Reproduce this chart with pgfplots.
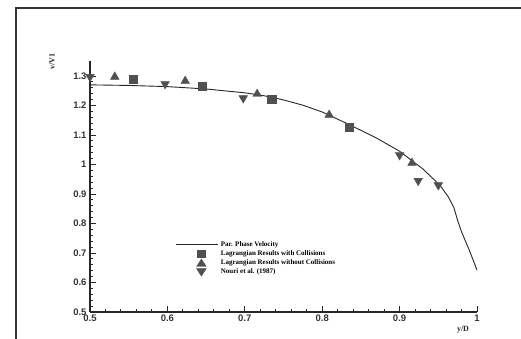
\documentclass[border=0pt]{standalone}
\usepackage{pgfplots}
\pgfplotsset{compat=1.18}
\usepackage{fontspec}
\setmainfont{Liberation Serif}
\newfontfamily\tickfont{Liberation Sans}
\definecolor{mk}{HTML}{505050}
\begin{document}
\begin{tikzpicture}[x=1pt,y=1pt]
\path[use as bounding box] (0,0) rectangle (521,338);
\draw[line width=1.2pt,black!80] (16,-20) |- (540,330);
\begin{axis}[
  at={(90pt,26pt)}, anchor=south west,
  scale only axis, width=387pt, height=250.75pt,
  xmin=0.5, xmax=1, ymin=0.5, ymax=1.35,
  axis x line=bottom, axis y line=left,
  axis line style={-, line width=1.3pt, black!85},
  tick align=inside,
  xtick={0.5,0.6,0.7,0.8,0.9,1}, xticklabels={0.5,0.6,0.7,0.8,0.9,1},
  ytick={0.5,0.6,0.7,0.8,0.9,1,1.1,1.2,1.3}, yticklabels={0.5,0.6,0.7,0.8,0.9,1,1.1,1.2,1.3},
  minor x tick num=4, minor y tick num=4,
  major tick length=6pt, minor tick length=3pt,
  tick style={line width=1pt, black!85},
  ticklabel style={font=\tickfont\bfseries\fontsize{9.5}{10}\selectfont, text=black!80},
  /pgf/number format/assume math mode=true,
  xticklabel style={yshift=1pt},
  clip=false,
  legend style={at={(rel axis cs:0.22,0.29)}, anchor=north west, draw=none, fill=none,
    font=\bfseries\fontsize{7}{7.8}\selectfont, row sep=-1.2pt, inner sep=0pt},
  legend cell align=left,
]
\addplot[black!85, line width=0.9pt, legend image code/.code={\draw[black!85,line width=0.9pt] (-0.9cm,0) -- (0.6cm,0);}] coordinates {
(0.5,1.270) (0.55,1.268) (0.6,1.264) (0.65,1.256) (0.7,1.243) (0.725,1.233)
(0.75,1.219) (0.775,1.201) (0.8,1.178) (0.836,1.134) (0.87,1.09) (0.9,1.045)
(0.93,0.985) (0.952,0.930) (0.963,0.890) (0.970,0.855) (0.975,0.81) (0.98,0.772)
(0.99,0.71) (1.0,0.642)
};
\addlegendentry{Par. Phase Velocity}
\addplot[only marks, mark=square*, mark size=4.2pt, mark options={fill=mk, draw=mk},
  legend image code/.code={\draw[mk,fill=mk] (-0.15cm,-3.5pt) rectangle (0.15cm,3.5pt);}] coordinates {
(0.556,1.290) (0.645,1.266) (0.735,1.222) (0.835,1.127)
};
\addlegendentry{Lagrangian Results with Collisions}
\addplot[only marks, mark=triangle*, mark size=5pt, mark options={fill=mk, draw=mk},
  legend image code/.code={\fill[mk] (-0.17cm,-3.5pt) -- (0.17cm,-3.5pt) -- (0,4pt) -- cycle;}] coordinates {
(0.532,1.297) (0.623,1.283) (0.716,1.239) (0.809,1.168) (0.916,1.005)
};
\addlegendentry{Lagrangian Results without Collisions}
\addplot[only marks, mark=triangle*, mark size=5pt, mark options={fill=mk, draw=mk, rotate=180},
  legend image code/.code={\fill[mk] (-0.17cm,3.5pt) -- (0.17cm,3.5pt) -- (0,-4pt) -- cycle;}] coordinates {
(0.500,1.297) (0.597,1.273) (0.698,1.225) (0.900,1.032) (0.924,0.945) (0.950,0.930)
};
\addlegendentry{Nouri et al. (1987)}
\end{axis}
\node[rotate=90, font=\bfseries\fontsize{8}{9}\selectfont, text=black!85] at (52,276) {v/V1};
\node[font=\bfseries\fontsize{8}{9}\selectfont, text=black!85] at (463,8) {y/D};
\end{tikzpicture}
\end{document}
